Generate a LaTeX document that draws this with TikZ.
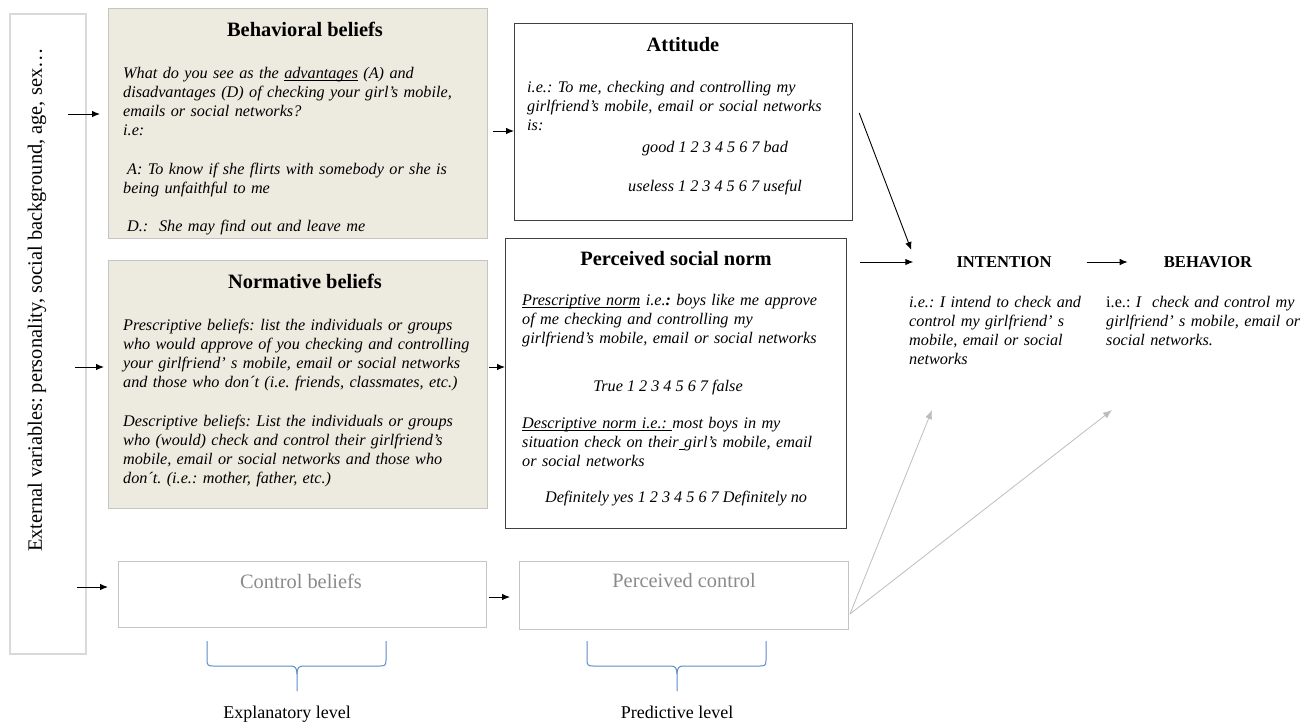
\documentclass[tikz,border=0pt]{standalone}
\usepackage{fontspec}
\setmainfont{Liberation Serif}
\usetikzlibrary{arrows.meta,calc}
\definecolor{beige}{HTML}{EDEAE0}
\definecolor{bracecol}{HTML}{5B8AC9}
\definecolor{lightline}{HTML}{C4C4C4}
\definecolor{graytext}{HTML}{8A8A8A}
\definecolor{grayarrow}{HTML}{BDBDBD}
\newsavebox\myulbox
\newcommand\myul[1]{\sbox\myulbox{#1}\rlap{\rule[-2.6pt]{\wd\myulbox}{0.75pt}}\usebox\myulbox}
\begin{document}
\frenchspacing
\hyphenpenalty=10000
\begin{tikzpicture}[x=1pt,y=-1pt,
  beliefbox/.style={draw=lightline, fill=beige, line width=1pt, inner sep=0, anchor=north west},
  darkbox/.style={draw=black!75, line width=1.2pt, inner sep=0, anchor=north west},
  lightbox/.style={draw=lightline, line width=1pt, inner sep=0, anchor=north west},
  extbox/.style={draw=black!15, line width=1.5pt, inner sep=0, anchor=north west},
  bodytext/.style={anchor=base west, align=left, inner sep=0, text width=#1,
    font=\fontsize{16.2}{19.2}\selectfont\itshape},
  bodytext/.default=370,
  centerline/.style={anchor=base, inner sep=0, font=\fontsize{16.2}{19.2}\selectfont\itshape},
  ttl/.style={inner sep=0, font=\fontsize{20.4}{24}\selectfont\bfseries},
  capsttl/.style={inner sep=0, font=\fontsize{16.6}{20}\selectfont\bfseries},
  grayttl/.style={inner sep=0, text=graytext, font=\fontsize{20.4}{24}\selectfont},
  levellbl/.style={anchor=base, inner sep=0, font=\fontsize{18}{22}\selectfont},
  arr/.style={-{Latex[length=8pt,width=6.5pt]}, line width=0.9pt, black},
  garr/.style={-{Latex[length=9pt,width=7pt]}, line width=0.8pt, grayarrow},
  brace/.style={draw=bracecol, line width=1pt}
]
\useasboundingbox (0,0) rectangle (1312,724);

% ---------- boxes ----------
\node[extbox, minimum width=76, minimum height=640] (ext) at (9,13) {};
\node[beliefbox, minimum width=379, minimum height=230] (bb) at (108,8) {};
\node[beliefbox, minimum width=379, minimum height=248] (nb) at (108,260) {};
\node[darkbox, minimum width=338, minimum height=197] (att) at (514,23) {};
\node[darkbox, minimum width=341, minimum height=290] (psn) at (505,238) {};
\node[lightbox, minimum width=368, minimum height=66] (cb) at (118,561) {};
\node[lightbox, minimum width=329, minimum height=68] (pc) at (519,561) {};

% ---------- external variables ----------
\node[rotate=90, inner sep=0, font=\fontsize{20.4}{24}\selectfont] (extt) at (37,300)
  {External variables: personality, social background, age, sex…};

% ---------- behavioral beliefs ----------
\node[ttl] (bbt) at (305,29) {Behavioral beliefs};
\begin{scope}
\clip (108,8) rectangle (487,237);
\node[bodytext] (bbx) at (123,78) {What do you see as the \myul{advantages} (A) and\\
disadvantages (D) of checking your girl’s mobile,\\
emails or social networks?\\
i.e:\\[19.2pt]
\hspace*{4pt}A: To know if she flirts with somebody or she is\\
being unfaithful to me\\[19.2pt]
\hspace*{4pt}D.:\ \ She may find out and leave me};
\end{scope}

% ---------- normative beliefs ----------
\node[ttl] (nbt) at (305,281) {Normative beliefs};
\node[bodytext] (nbx) at (123,330) {Prescriptive beliefs: list the individuals or groups\\
who would approve of you checking and controlling\\
your girlfriend’ s mobile, email or social networks\\
and those who don´t (i.e. friends, classmates, etc.)\\[19.2pt]
Descriptive beliefs: List the individuals or groups\\
who (would) check and control their girlfriend’s\\
mobile, email or social networks and those who\\
don´t. (i.e.: mother, father, etc.)};

% ---------- attitude ----------
\node[ttl] (attt) at (683,45) {Attitude};
\node[bodytext=330] (attx) at (527,92) {i.e.: To me, checking and controlling my\\
girlfriend’s mobile, email or social networks\\
is:};
\node[centerline] (good) at (715,152) {good 1 2 3 4 5 6 7 bad};
\node[centerline] (useless) at (715,191) {useless 1 2 3 4 5 6 7 useful};

% ---------- perceived social norm ----------
\node[ttl] (psnt) at (676,259) {Perceived social norm};
\node[bodytext=330] (psnx1) at (522,305) {\myul{Prescriptive norm} i.e.\textbf{:} boys like me approve\\
of me checking and controlling my\\
girlfriend’s mobile, email or social networks};
\node[centerline] (truel) at (668,391) {True 1 2 3 4 5 6 7 false};
\node[bodytext=330] (psnx2) at (522,428) {\myul{Descriptive norm i.e.:\ }most boys in my\\
situation check on their\myul{\ }girl’s mobile, email\\
or social networks};
\node[centerline] (defl) at (676,502) {Definitely yes 1 2 3 4 5 6 7 Definitely no};

% ---------- control ----------
\node[grayttl] (cbt) at (301,581) {Control beliefs};
\node[grayttl] (pct) at (684,581) {Perceived control};

% ---------- intention / behavior ----------
\node[capsttl] (int) at (1004,262) {INTENTION};
\node[capsttl] (beh) at (1208,262) {BEHAVIOR};
\node[bodytext=195] (intx) at (909,307) {i.e.: I intend to check and\\
control my girlfriend’ s\\
mobile, email or social\\
networks};
\node[bodytext=205] (behx) at (1106,307) {\textup{i.e.:} I\ \ check and control my\\
girlfriend’ s mobile, email or\\
social networks.};

% ---------- arrows ----------
\coordinate (e1) at (68,114);
\coordinate (e2) at (75,367);
\coordinate (e3) at (77,587);
\draw[arr, shorten >=8pt] (e1) -- (e1 -| bb.west);
\draw[arr, shorten >=4pt] (e2) -- (e2 -| nb.west);
\draw[arr, shorten >=10pt] (e3) -- (e3 -| cb.west);

\coordinate (ya) at (0,131);
\coordinate (yn) at (0,367);
\coordinate (yc) at (0,597);
\draw[arr, shorten <=5pt] (ya -| bb.east) -- (ya -| att.west);
\draw[arr, shorten <=1pt] (yn -| nb.east) -- (yn -| psn.west);
\draw[arr, shorten <=2pt, shorten >=9pt] (yc -| cb.east) -- (yc -| pc.west);

\draw[arr] ($(att.north east)+(6,90)$) -- ($(int.west)+(-45,-12)$);
\draw[arr, shorten <=13pt, shorten >=43pt] (psn.east |- int.west) -- (int.west);
\draw[arr, shorten <=35pt, shorten >=36pt] (int.east) -- (beh.west);

\coordinate (gs) at ($(pc.south east)+(1,-16)$);
\coordinate (gi) at (932,410);
\coordinate (gb) at (1112,410);
\draw[garr] (gs) -- (gi);
\draw[garr] (gs) -- (gb);

% ---------- braces ----------
\draw[brace] (207,641) -- (207,660) .. controls (207,665) and (208,666) .. (213,666)
  -- (291,666) .. controls (295,666) and (297,668) .. (297,674) -- (297,691);
\draw[brace] (297,674) .. controls (297,668) and (299,666) .. (303,666)
  -- (380,666) .. controls (385,666) and (386,665) .. (386,660) -- (386,641);
\draw[brace] (587,641) -- (587,660) .. controls (587,665) and (588,666) .. (593,666)
  -- (671,666) .. controls (675,666) and (677,668) .. (677,674) -- (677,691);
\draw[brace] (677,674) .. controls (677,668) and (679,666) .. (683,666)
  -- (760,666) .. controls (765,666) and (766,665) .. (766,660) -- (766,641);

\node[levellbl] (expl) at (287,718) {Explanatory level};
\node[levellbl] (pred) at (677,718) {Predictive level};
\end{tikzpicture}
\end{document}
